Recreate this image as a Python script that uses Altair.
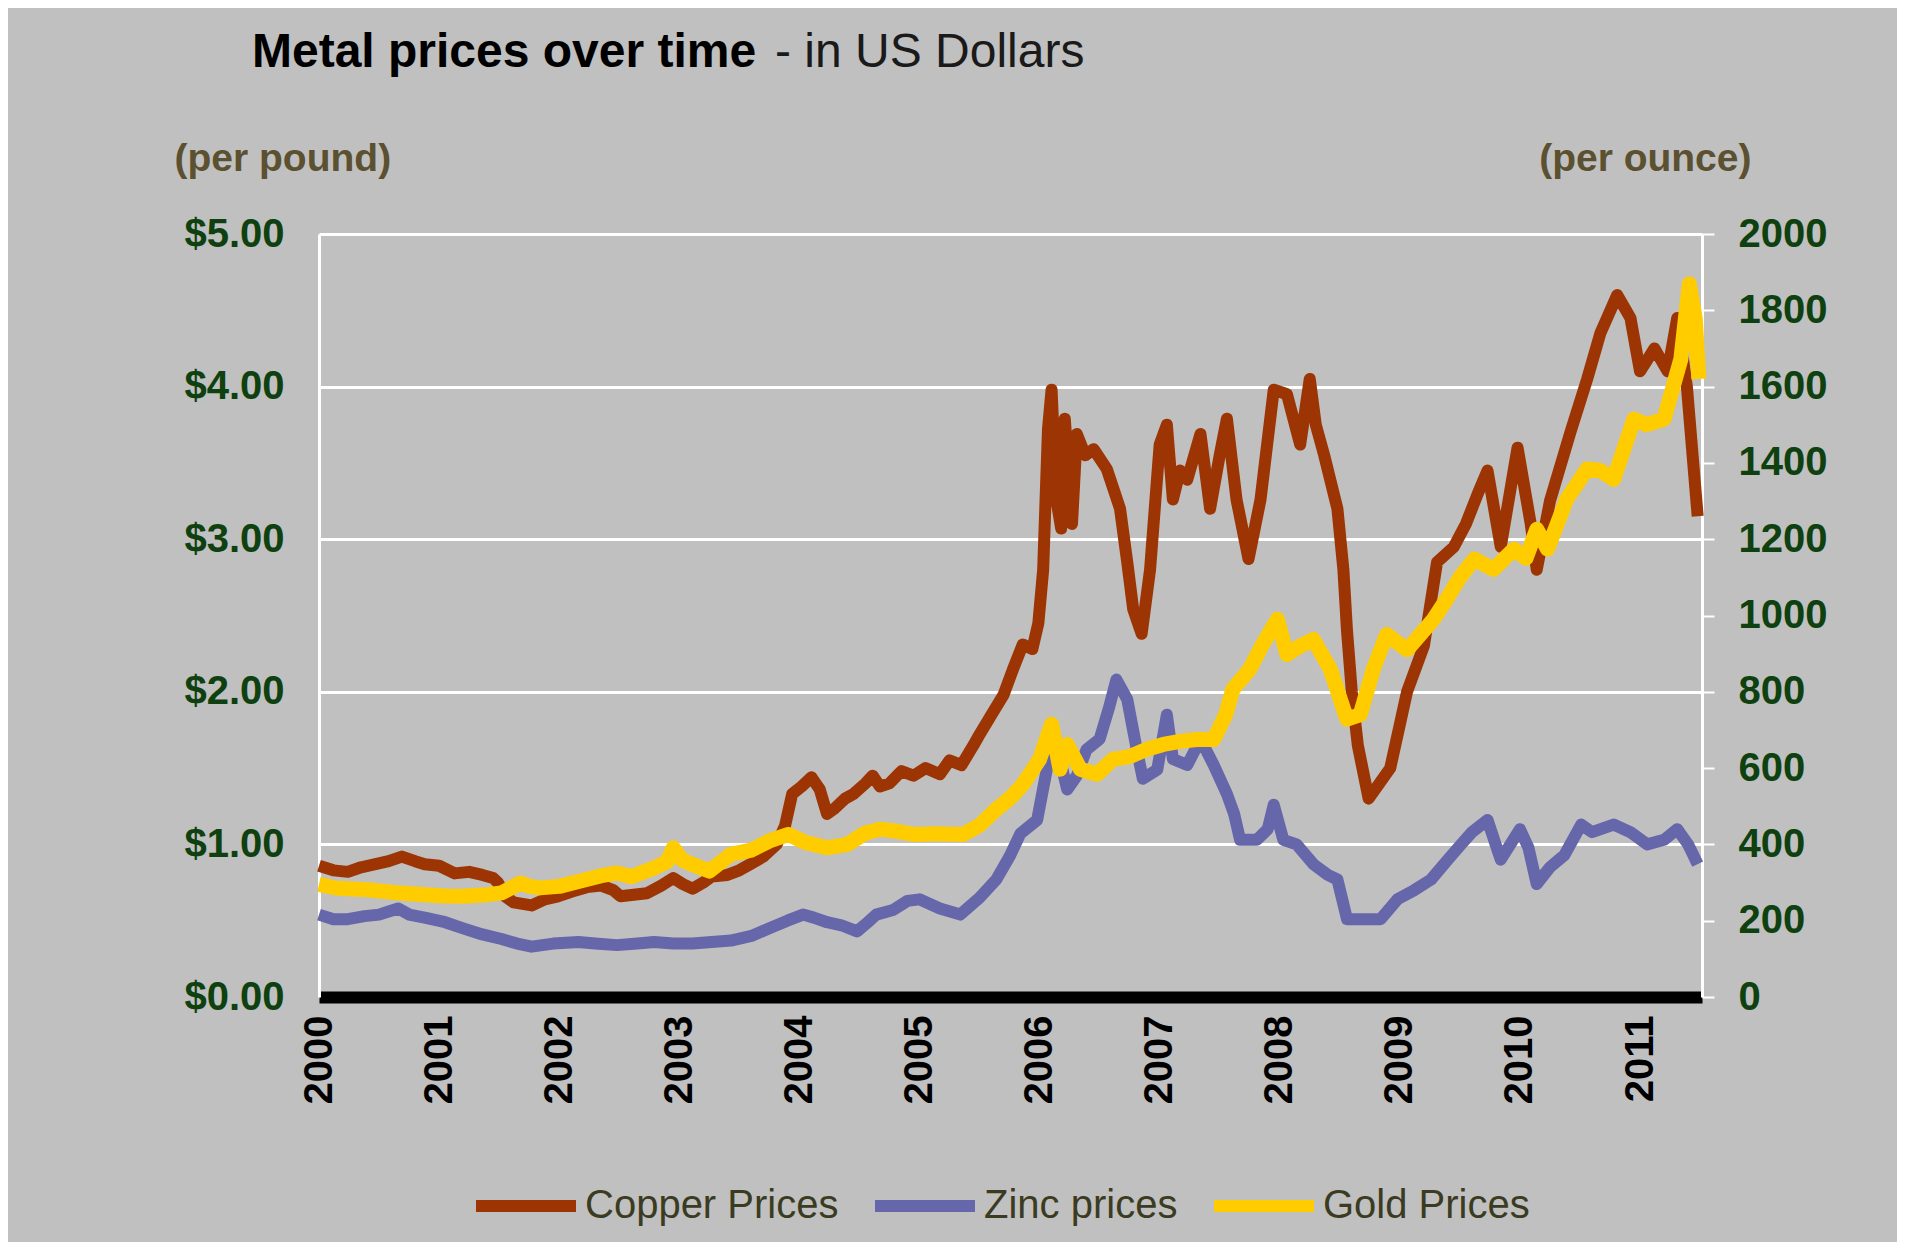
import altair as alt
import pandas as pd

# ---- data (years after 2000) ----
copper_t = [0.00, 0.12, 0.24, 0.35, 0.47, 0.58, 0.69, 0.80, 0.88, 1.00, 1.13, 1.25, 1.36, 1.45, 1.49,
            1.55, 1.62, 1.77, 1.88, 1.99, 2.10, 2.23, 2.35, 2.45, 2.51, 2.62, 2.73, 2.85, 2.95, 3.03,
            3.11, 3.20, 3.27, 3.40, 3.50, 3.59, 3.70, 3.81, 3.88, 3.94, 4.02, 4.10, 4.17, 4.23, 4.30,
            4.38, 4.45, 4.55, 4.61, 4.67, 4.75, 4.85, 4.95, 5.05, 5.17, 5.25, 5.35, 5.45, 5.50, 5.60,
            5.70, 5.78, 5.86, 5.94, 5.99, 6.03, 6.07, 6.10, 6.14, 6.18, 6.21, 6.27, 6.31, 6.38, 6.45,
            6.56, 6.67, 6.73, 6.78, 6.85, 6.92, 7.00, 7.06, 7.11, 7.17, 7.23, 7.34, 7.42, 7.50, 7.56,
            7.64, 7.74, 7.84, 7.95, 8.06, 8.17, 8.25, 8.30, 8.37, 8.48, 8.53, 8.56, 8.60, 8.65, 8.74,
            8.83, 8.92, 9.06, 9.20, 9.31, 9.45, 9.55, 9.65, 9.73, 9.84, 9.98, 10.09, 10.14, 10.25,
            10.42, 10.56, 10.67, 10.81, 10.92, 11.00, 11.12, 11.23, 11.31, 11.39, 11.48]
copper_v = [0.86, 0.83, 0.82, 0.85, 0.87, 0.89, 0.92, 0.89, 0.87, 0.86, 0.81, 0.82, 0.80, 0.78, 0.75,
            0.66, 0.62, 0.60, 0.64, 0.66, 0.69, 0.72, 0.73, 0.70, 0.66, 0.67, 0.68, 0.73, 0.78, 0.74,
            0.71, 0.75, 0.79, 0.80, 0.83, 0.87, 0.92, 1.00, 1.12, 1.33, 1.38, 1.44, 1.36, 1.20, 1.24,
            1.30, 1.33, 1.40, 1.45, 1.38, 1.40, 1.48, 1.45, 1.50, 1.46, 1.55, 1.52, 1.65, 1.72, 1.85,
            1.98, 2.15, 2.31, 2.28, 2.45, 2.80, 3.72, 3.98, 3.26, 3.07, 3.79, 3.10, 3.69, 3.55, 3.59,
            3.46, 3.20, 2.85, 2.54, 2.38, 2.80, 3.62, 3.75, 3.26, 3.45, 3.39, 3.69, 3.20, 3.55, 3.79,
            3.26, 2.87, 3.26, 3.98, 3.95, 3.62, 4.05, 3.75, 3.55, 3.20, 2.80, 2.40, 2.00, 1.65, 1.30,
            1.40, 1.50, 2.00, 2.30, 2.85, 2.95, 3.10, 3.30, 3.45, 2.95, 3.60, 3.10, 2.80, 3.25,
            3.70, 4.05, 4.35, 4.60, 4.45, 4.10, 4.25, 4.10, 4.45, 4.00, 3.15]

zinc_t = [0.00, 0.12, 0.24, 0.38, 0.50, 0.58, 0.66, 0.75, 0.88, 1.05, 1.20, 1.36, 1.52, 1.65, 1.77,
          1.95, 2.16, 2.30, 2.48, 2.65, 2.79, 2.95, 3.11, 3.27, 3.43, 3.60, 3.75, 3.90, 4.03, 4.12,
          4.23, 4.35, 4.48, 4.57, 4.64, 4.78, 4.90, 5.00, 5.17, 5.34, 5.50, 5.64, 5.75, 5.84, 5.98,
          6.06, 6.14, 6.23, 6.31, 6.39, 6.50, 6.58, 6.64, 6.73, 6.81, 6.86, 6.98, 7.06, 7.11, 7.23,
          7.34, 7.45, 7.56, 7.62, 7.67, 7.81, 7.90, 7.95, 8.03, 8.14, 8.28, 8.40, 8.48, 8.56, 8.70,
          8.84, 8.98, 9.12, 9.26, 9.40, 9.51, 9.60, 9.73, 9.84, 10.00, 10.07, 10.14, 10.25, 10.37,
          10.51, 10.60, 10.78, 10.92, 11.06, 11.20, 11.31, 11.40, 11.48]
zinc_v = [0.54, 0.51, 0.51, 0.53, 0.54, 0.56, 0.58, 0.54, 0.52, 0.49, 0.45, 0.41, 0.38, 0.35, 0.33,
          0.35, 0.36, 0.35, 0.34, 0.35, 0.36, 0.35, 0.35, 0.36, 0.37, 0.40, 0.45, 0.50, 0.54, 0.52,
          0.49, 0.47, 0.43, 0.49, 0.54, 0.57, 0.63, 0.64, 0.58, 0.54, 0.65, 0.77, 0.92, 1.07, 1.16,
          1.49, 1.66, 1.36, 1.45, 1.62, 1.69, 1.90, 2.08, 1.95, 1.62, 1.43, 1.49, 1.85, 1.56, 1.52,
          1.69, 1.52, 1.33, 1.20, 1.03, 1.03, 1.10, 1.26, 1.03, 1.00, 0.87, 0.80, 0.77, 0.51, 0.51,
          0.51, 0.64, 0.70, 0.77, 0.90, 1.00, 1.08, 1.16, 0.90, 1.10, 0.98, 0.74, 0.85, 0.93,
          1.13, 1.08, 1.13, 1.08, 1.00, 1.03, 1.10, 1.00, 0.87]

gold_t = [0.00, 0.15, 0.41, 0.65, 0.88, 1.05, 1.20, 1.40, 1.52, 1.68, 1.75, 1.84, 2.00, 2.16, 2.35,
          2.48, 2.60, 2.79, 2.90, 2.95, 3.02, 3.11, 3.25, 3.43, 3.60, 3.75, 3.91, 4.05, 4.23, 4.40,
          4.55, 4.67, 4.80, 4.95, 5.15, 5.36, 5.50, 5.64, 5.75, 5.86, 6.00, 6.10, 6.17, 6.23, 6.34,
          6.48, 6.61, 6.75, 6.89, 7.03, 7.17, 7.31, 7.45, 7.55, 7.61, 7.75, 7.85, 7.98, 8.06, 8.17,
          8.28, 8.42, 8.56, 8.67, 8.78, 8.89, 9.06, 9.17, 9.28, 9.39, 9.50, 9.62, 9.78, 9.95, 10.05,
          10.14, 10.23, 10.39, 10.56, 10.67, 10.78, 10.95, 11.05, 11.20, 11.34, 11.41, 11.46, 11.49]
gold_v = [295, 285, 281, 273, 268, 265, 264, 268, 273, 299, 290, 286, 290, 303, 318,
          325, 315, 338, 355, 391, 360, 347, 330, 374, 385, 409, 426, 405, 391, 400,
          430, 440, 435, 426, 428, 426, 450, 492, 520, 557, 623, 715, 597, 662, 597,
          584, 623, 630, 649, 662, 670, 675, 675, 740, 807, 859, 920, 990, 898, 920,
          937, 860, 728, 740, 860, 950, 910, 950, 990, 1043, 1100, 1148, 1121, 1174, 1150,
          1226, 1174, 1305, 1384, 1380, 1357, 1515, 1500, 1515, 1672, 1869, 1777, 1620]

series_names = ["Copper Prices", "Zinc prices", "Gold Prices"]
series_colors = ["#9C3503", "#6666AA", "#FFCC00"]
year_ticks = list(range(2000, 2012))
left_ticks = [0, 1, 2, 3, 4, 5]
right_ticks = list(range(0, 2001, 200))

BASE = 2000
left_rows = []
for t, v in zip(copper_t, copper_v):
    left_rows.append({"year": BASE + t, "value": v, "series": series_names[0]})
for t, v in zip(zinc_t, zinc_v):
    left_rows.append({"year": BASE + t, "value": v, "series": series_names[1]})
df_left = pd.DataFrame(left_rows)
df_gold = pd.DataFrame({"year": [BASE + t for t in gold_t], "value": gold_v,
                        "series": series_names[2]})

FONT = "Liberation Sans"
GREEN = "#0f400f"
OLIVE = "#5b5030"

x_enc = alt.X("year:Q",
              scale=alt.Scale(domain=[2000, 2011.516], nice=False, zero=False),
              axis=alt.Axis(values=year_ticks, format="d", labelAngle=270, labelAlign="right",
                            labelBaseline="middle", labelFont=FONT, labelFontWeight="bold",
                            labelFontSize=40, labelColor="black", labelPadding=18,
                            labelFlush=False, labelOverlap=False, ticks=False,
                            domainColor="black", domainWidth=12, grid=False, title=None))

color_enc = alt.Color("series:N",
                      scale=alt.Scale(domain=series_names, range=series_colors),
                      legend=alt.Legend(orient="none", legendX=151, legendY=916,
                                        direction="horizontal", columns=3, title=None,
                                        symbolType="stroke", symbolStrokeWidth=12,
                                        symbolSize=10000, labelFont=FONT, labelFontSize=40,
                                        labelLimit=0, labelColor="#3b3b22", labelOffset=3,
                                        columnPadding=12))

left = alt.Chart(df_left).mark_line(strokeWidth=12, strokeJoin="round").encode(
    x=x_enc,
    y=alt.Y("value:Q", scale=alt.Scale(domain=[0, 5], nice=False),
            axis=alt.Axis(values=left_ticks, format="$.2f", labelFont=FONT,
                          labelFontWeight="bold", labelFontSize=40, labelColor=GREEN,
                          labelPadding=35, ticks=False, domainColor="white", domainWidth=3,
                          gridColor="white", gridWidth=3, grid=True,
                          title="(per pound)", titleAngle=0, titleX=-145, titleY=-76,
                          titleAlign="left", titleBaseline="middle", titleFont=FONT,
                          titleFontSize=39, titleFontWeight="bold", titleColor=OLIVE)),
    color=color_enc,
    detail="series:N",
)

gold = alt.Chart(df_gold).mark_line(strokeWidth=15, strokeJoin="round").encode(
    x=x_enc,
    y=alt.Y("value:Q", scale=alt.Scale(domain=[0, 2000], nice=False),
            axis=alt.Axis(orient="right", values=right_ticks, format="d", labelFont=FONT,
                          labelFontWeight="bold", labelFontSize=40, labelColor=GREEN,
                          labelPadding=24, ticks=True, tickColor="white", tickWidth=2,
                          tickSize=12, domainColor="white", domainWidth=3, grid=False,
                          title="(per ounce)", titleAngle=0, titleX=49, titleY=-76,
                          titleAlign="right", titleBaseline="middle", titleFont=FONT,
                          titleFontSize=39, titleFontWeight="bold", titleColor=OLIVE)),
    color=color_enc,
)

title_df = pd.DataFrame({"k": [0]})
title_bold = alt.Chart(title_df).mark_text(
    text="Metal prices over time", font=FONT, fontSize=48, fontWeight="bold",
    align="left", baseline="alphabetic", color="#000000"
).encode(x=alt.value(-67), y=alt.value(-167))
title_norm = alt.Chart(title_df).mark_text(
    text="- in US Dollars", font=FONT, fontSize=48, fontWeight="normal",
    align="left", baseline="alphabetic", color="#1a1a1a"
).encode(x=alt.value(456), y=alt.value(-167))

chart = alt.layer(left, gold, title_bold, title_norm).resolve_scale(
    y="independent"
).properties(
    width=1383, height=763,
    padding={"left": 311, "top": 226, "right": 195, "bottom": 245},
    autosize=alt.AutoSizeParams(type="none"),
    background="#C0C0C0",
).configure_view(stroke=None, fill="#C0C0C0")

chart.save("out.html", embed_options={"renderer": "svg", "actions": False})
